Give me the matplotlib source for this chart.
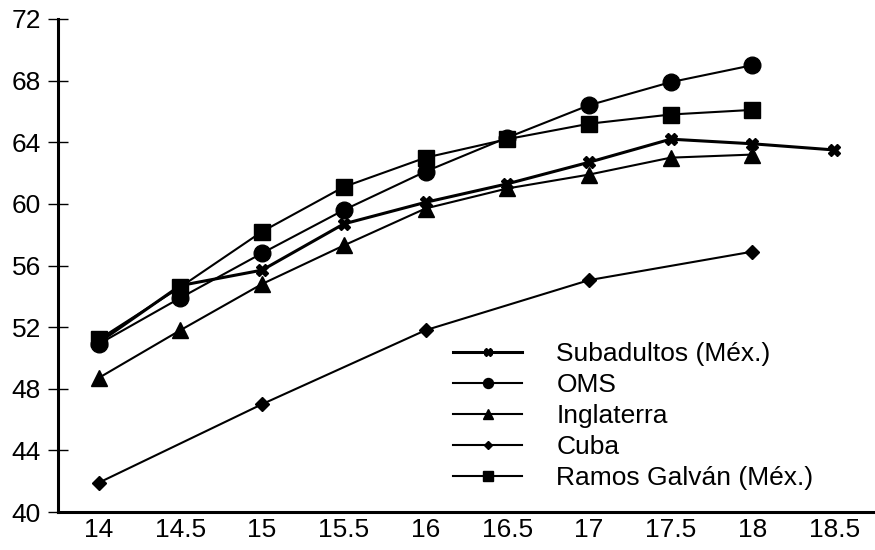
import matplotlib.pyplot as plt
import numpy as np

# edades (categorías del eje x)
edades = ["14", "14.5", "15", "15.5", "16", "16.5", "17", "17.5", "18", "18.5"]

subadultos = [51.0, 54.7, 55.7, 58.7, 60.1, 61.3, 62.7, 64.2, 63.9, 63.5]
oms = [50.9, 53.9, 56.8, 59.6, 62.1, 64.3, 66.4, 67.9, 69.0]
inglaterra = [48.7, 51.8, 54.8, 57.3, 59.7, 61.0, 61.9, 63.0, 63.2]
cuba_edades = ["14", "15", "16", "17", "18"]
cuba = [41.9, 47.0, 51.8, 55.05, 56.9]
ramos = [51.2, 54.6, 58.2, 61.1, 63.0, 64.2, 65.2, 65.8, 66.1]

plt.rcParams['font.family'] = ['Liberation Sans', 'DejaVu Sans']

fig = plt.figure(figsize=(8.75, 5.5), dpi=100)
ax = fig.add_axes([0.066, 0.069, 0.934, 0.8965])

pos = {e: i for i, e in enumerate(edades)}
x = np.arange(len(edades))

ax.plot(x[:len(subadultos)], subadultos, color='black', lw=2.2, marker='X',
        ms=9, label='Subadultos (Méx.)')
ax.plot(x[:len(oms)], oms, color='black', lw=1.5, marker='o', ms=12, label='OMS')
ax.plot(x[:len(inglaterra)], inglaterra, color='black', lw=1.5, marker='^',
        ms=11, label='Inglaterra')
ax.plot([pos[e] for e in cuba_edades], cuba, color='black', lw=1.5, marker='D',
        ms=7, label='Cuba')
ax.plot(x[:len(ramos)], ramos, color='black', lw=1.5, marker='s', ms=12,
        label='Ramos Galván (Méx.)')

ax.set_xlim(-0.5, 9.5)
ax.set_ylim(40, 72)
ax.set_yticks(range(40, 73, 4))
ax.set_xticks(x)
ax.set_xticklabels(edades)

for s in ['top', 'right']:
    ax.spines[s].set_visible(False)
ax.spines['left'].set_linewidth(2.2)
ax.spines['bottom'].set_linewidth(2.2)
ax.tick_params(axis='y', direction='inout', length=14, width=1, pad=5, labelsize=19)
ax.tick_params(axis='x', length=0, pad=4, labelsize=19)

ax.legend(loc='upper left', bbox_to_anchor=(0.468, 0.372), frameon=False,
          fontsize=19, handlelength=2.6, markerscale=0.6, labelspacing=0.27,
          handletextpad=1.3, borderpad=0)

fig.savefig('out.png')
